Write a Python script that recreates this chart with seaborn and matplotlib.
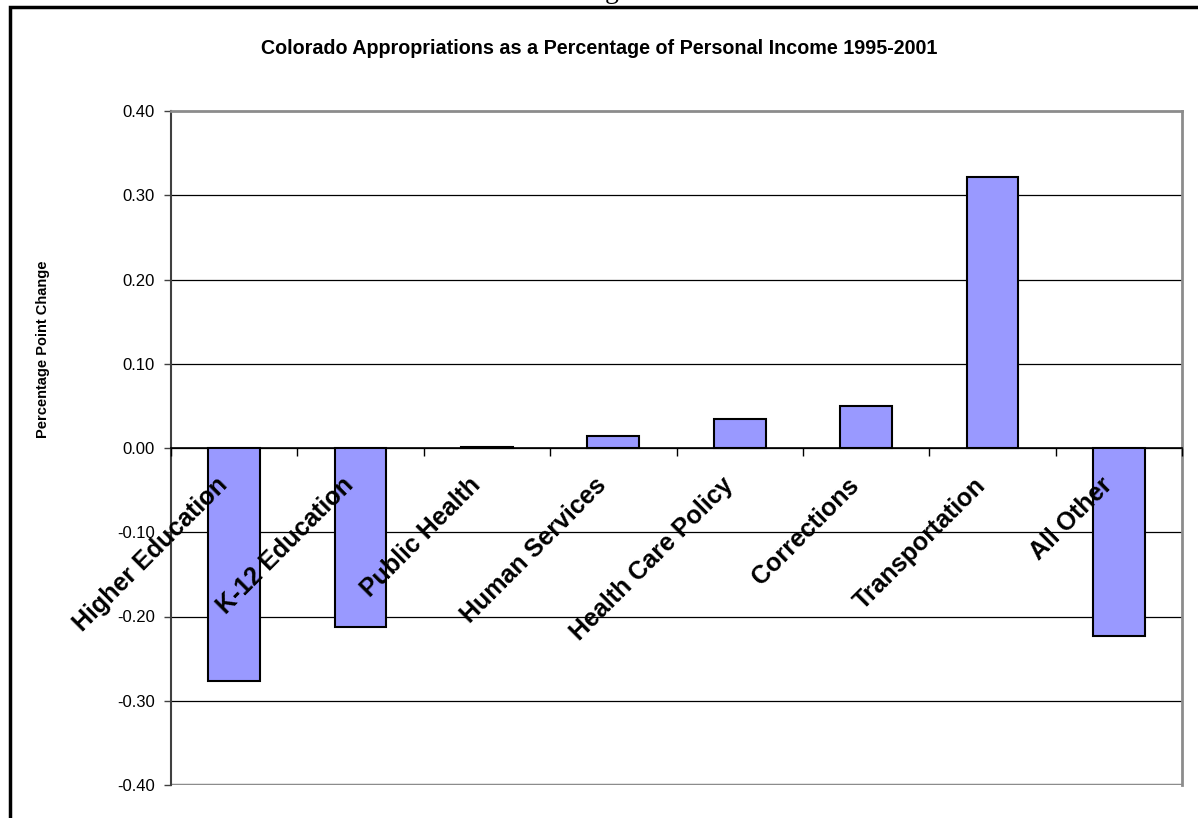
import matplotlib
matplotlib.use("Agg")
import matplotlib.pyplot as plt
import matplotlib.transforms as mtransforms
from matplotlib.patches import Rectangle
from matplotlib.ticker import FixedLocator, FormatStrFormatter
import seaborn as sns
import pandas as pd

categories = ["Higher Education", "K-12 Education", "Public Health", "Human Services",
              "Health Care Policy", "Corrections", "Transportation", "All Other"]
values = [-0.277, -0.212, 0.001, 0.014, 0.035, 0.050, 0.322, -0.223]
y_ticks = [-0.40, -0.30, -0.20, -0.10, 0.00, 0.10, 0.20, 0.30, 0.40]
title = "Colorado Appropriations as a Percentage of Personal Income 1995-2001"
y_label = "Percentage Point Change"

sns.set_style("white")
plt.rcParams["font.family"] = ["Liberation Sans", "DejaVu Sans"]
plt.rcParams["text.color"] = "black"
plt.rcParams["xtick.color"] = "black"
plt.rcParams["ytick.color"] = "black"

W, H = 1198, 818
fig = plt.figure(figsize=(W / 100, H / 100), dpi=100)
ax = fig.add_axes([171 / W, 1 - 785 / H, (1182 - 171) / W, (785 - 111) / H])

df = pd.DataFrame({"category": categories, "value": values})
sns.barplot(data=df, x="category", y="value", color="#9999FF", saturation=1,
            edgecolor="black", linewidth=1.5, width=0.41, ax=ax, zorder=3)

ax.set_xlim(-0.5, len(categories) - 0.5)
ax.set_ylim(y_ticks[0], y_ticks[-1])
ax.set_yticks(y_ticks)
ax.yaxis.set_major_formatter(FormatStrFormatter("%.2f"))
ax.tick_params(axis="y", which="major", length=5, width=1, color="#404040",
               direction="out", left=True, labelsize=12, pad=6.5, labelcolor="black")

# gridlines
for t in y_ticks[1:-1]:
    ax.axhline(t, color="black", linewidth=0.9, zorder=1)

# frame of plot area
for s in ["top", "right"]:
    ax.spines[s].set_visible(True)
    ax.spines[s].set_color("#8c8c8c")
    ax.spines[s].set_linewidth(2)
ax.spines["left"].set_color("#404040")
ax.spines["left"].set_linewidth(1.5)
ax.spines["bottom"].set_position(("data", 0))
ax.spines["bottom"].set_color("black")
ax.spines["bottom"].set_linewidth(1.2)
ax.spines["bottom"].set_zorder(4)
ax.axhline(y_ticks[0], color="#8c8c8c", linewidth=2.5, zorder=2)

# x ticks: boundaries as minor ticks, labels at centers
ax.xaxis.set_minor_locator(FixedLocator([i - 0.5 for i in range(len(categories) + 1)]))
ax.tick_params(axis="x", which="minor", length=6, width=1, color="black",
               direction="out", bottom=True)
ax.tick_params(axis="x", which="major", length=0, pad=18, labelcolor="black")
ax.set_xticks(range(len(categories)))
ax.set_xticklabels(categories, rotation=45, ha="right", va="top",
                   rotation_mode="anchor", fontsize=18, fontweight="bold")
off = mtransforms.ScaledTranslation(-19 / 100, 0, fig.dpi_scale_trans)
for lab in ax.get_xticklabels():
    lab.set_transform(lab.get_transform() + off)
ax.xaxis.set_zorder(10)

ax.set_xlabel("")
ax.set_ylabel("")
fig.text(43 / W, 1 - 349 / H, y_label, rotation=90, ha="center", va="center",
         fontsize=10.5, fontweight="bold", color="black")
fig.text(599 / W, 1 - 48.5 / H, title, ha="center", va="center",
         fontsize=14.2, fontweight="bold", color="black")

# outer frame (extends beyond the image on right and bottom)
fig.patches.append(Rectangle((10 / W, -0.1), 1.2, 1 - 7.5 / H + 0.1,
                             transform=fig.transFigure, fill=False,
                             edgecolor="black", linewidth=2.5, zorder=10))
# cut-off heading above the frame
fig.text(612 / W, 1 + 2 / H, "g", ha="center", va="baseline",
         fontsize=20, fontfamily="Liberation Serif", color="black")

fig.savefig("out.png", dpi=100)
